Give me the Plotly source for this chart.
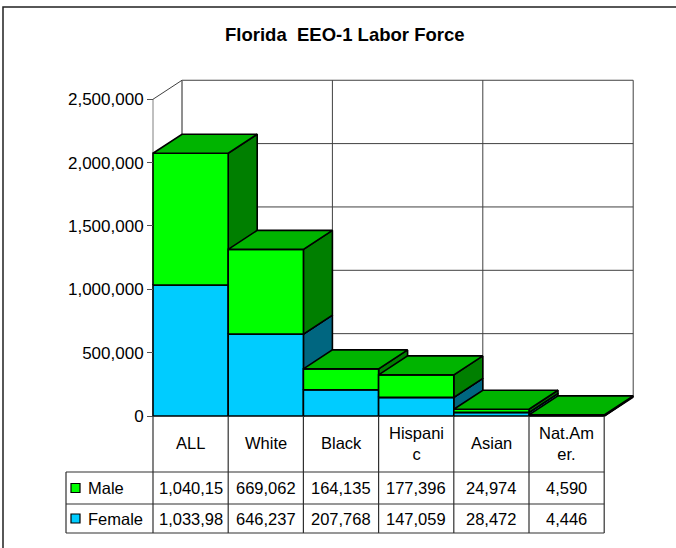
import plotly.graph_objects as go

# ---- data -------------------------------------------------------------
categories = ["ALL", "White", "Black", "Hispanic", "Asian", "Nat.American"]
header_text = ["ALL", "White", "Black", "Hispani<br>c", "Asian", "Nat.Am<br>er."]
male = [1040157, 669062, 164135, 177396, 24974, 4590]
female = [1033982, 646237, 207768, 147059, 28472, 4446]
y_ticks = [0, 500000, 1000000, 1500000, 2000000, 2500000]
title = "Florida  EEO-1 Labor Force"

# ---- geometry (pixels of the 676x548 page) ------------------------------
W, H = 676, 548
X0_PX, Y0_PX = 153, 416        # front-left corner of the floor
CAT_PX = 75.2                  # width of one category
UNIT_PX = 126.7 / 1e6          # pixels per person
DEPTH_X_PX, DEPTH_Y_PX = 29, 19

DX = DEPTH_X_PX / CAT_PX
DY = DEPTH_Y_PX / UNIT_PX
N = len(categories)
Y_TOP = y_ticks[-1]

def px_to_x(px):
    return (px - X0_PX) / CAT_PX

def py_to_paper(py):
    return 1 - py / H

FONT = "Liberation Sans, Arial, sans-serif"
FS = 16.5
EDGE = "#000000"
GRID = "#404040"
WALL = "#808080"

colors = {
    "male": {"front": "#00FF00", "top": "#00B400", "side": "#007F00"},
    "female": {"front": "#00CCFF", "top": "#0099BF", "side": "#006680"},
}

fig = go.Figure()

def poly(xs, ys, fill, lw=1.6):
    fig.add_trace(go.Scatter(
        x=xs + [xs[0]], y=ys + [ys[0]], mode="lines", fill="toself",
        fillcolor=fill, line=dict(color=EDGE, width=lw),
        hoverinfo="skip", showlegend=False))

def line(xs, ys, color, width=1):
    fig.add_trace(go.Scatter(
        x=xs, y=ys, mode="lines", line=dict(color=color, width=width),
        hoverinfo="skip", showlegend=False))

# ---- walls and gridlines --------------------------------------------------
for v in y_ticks:
    line([DX, N + DX], [v + DY, v + DY], GRID)
for k in range(0, N + 1, 2):
    line([k + DX, k + DX], [DY, Y_TOP + DY], GRID)
line([DX, DX], [DY, Y_TOP + DY], WALL)
line([0, 0], [0, Y_TOP], WALL)
line([0, DX], [Y_TOP, Y_TOP + DY], GRID)
line([N, N + DX], [0, DY], EDGE, 1.8)

# ---- stacked 3D columns (left to right, bottom to top) --------------------
for i in range(N):
    base = 0
    for key, vals in (("female", female), ("male", male)):
        top = base + vals[i]
        c = colors[key]
        # side face
        poly([i + 1, i + 1 + DX, i + 1 + DX, i + 1],
             [base, base + DY, top + DY, top], c["side"])
        # front face
        poly([i, i + 1, i + 1, i], [base, base, top, top], c["front"])
        # top face
        poly([i, i + DX, i + 1 + DX, i + 1],
             [top, top + DY, top + DY, top], c["top"])
        base = top

# ---- data table -----------------------------------------------------------
ROW_PX = [416, 472, 504, 533]
LEFT_PX = 66
TABLE_LINE = dict(color="#303030", width=1.2)
shapes = []
for py in ROW_PX[1:]:
    shapes.append(dict(type="line", xref="x", yref="paper",
                       x0=px_to_x(LEFT_PX), x1=N,
                       y0=py_to_paper(py), y1=py_to_paper(py), line=TABLE_LINE))
shapes.append(dict(type="line", xref="x", yref="paper",
                   x0=px_to_x(LEFT_PX), x1=px_to_x(LEFT_PX),
                   y0=py_to_paper(ROW_PX[1]), y1=py_to_paper(ROW_PX[3]),
                   line=TABLE_LINE))
for k in range(N + 1):
    shapes.append(dict(type="line", xref="x", yref="paper", x0=k, x1=k,
                       y0=py_to_paper(ROW_PX[0]), y1=py_to_paper(ROW_PX[3]),
                       line=TABLE_LINE))

def text(x, y, t, xref="x", xanchor="center", size=FS):
    return dict(x=x, y=y, xref=xref, yref="paper", text=t, showarrow=False,
                xanchor=xanchor, yanchor="middle",
                font=dict(size=size, color="black", family=FONT))

annotations = []
header_mid = (ROW_PX[0] + ROW_PX[1]) / 2 - 1
for i, t in enumerate(header_text):
    annotations.append(text(i + 0.5, py_to_paper(header_mid), t))

def cell_label(v):
    s = f"{v:,}"
    # seven-digit totals do not fit the cell and are cut off
    return s[:8]

for r, (name, vals, key) in enumerate((("Male", male, "male"),
                                        ("Female", female, "female"))):
    mid = (ROW_PX[r + 1] + ROW_PX[r + 2]) / 2
    for i, v in enumerate(vals):
        annotations.append(text(i + 0.5, py_to_paper(mid), cell_label(v)))
    annotations.append(text(86 / W, py_to_paper(mid), name, xref="paper",
                            xanchor="left"))
    shapes.append(dict(type="rect", xref="paper", yref="paper",
                       x0=71 / W, x1=80 / W,
                       y0=py_to_paper(mid + 4.5), y1=py_to_paper(mid - 4.5),
                       fillcolor=colors[key]["front"],
                       line=dict(color="black", width=1.2)))

annotations.append(text(345 / W, py_to_paper(35), f"<b>{title}</b>",
                        xref="paper", size=18.5))

# chart frame
shapes.append(dict(type="rect", xref="paper", yref="paper",
                   x0=3 / W, x1=1.02, y0=-0.02, y1=py_to_paper(7),
                   line=dict(color="#202020", width=1.5)))

fig.update_layout(
    width=W, height=H,
    margin=dict(l=0, r=0, t=0, b=0),
    paper_bgcolor="white", plot_bgcolor="white",
    showlegend=False,
    xaxis=dict(range=[px_to_x(0), px_to_x(W)], visible=False, fixedrange=True),
    yaxis=dict(range=[(Y0_PX - H) / UNIT_PX, Y0_PX / UNIT_PX],
               anchor="free", position=X0_PX / W, side="left",
               tickvals=y_ticks, tickformat=",d", ticks="outside",
               ticklen=6, tickcolor="#505050", showgrid=False,
               zeroline=False, showline=False, automargin=False,
               tickfont=dict(size=FS + 0.5, color="black", family=FONT),
               fixedrange=True),
    shapes=shapes,
    annotations=annotations,
)

fig.write_html("out.html", config={"displayModeBar": False})
